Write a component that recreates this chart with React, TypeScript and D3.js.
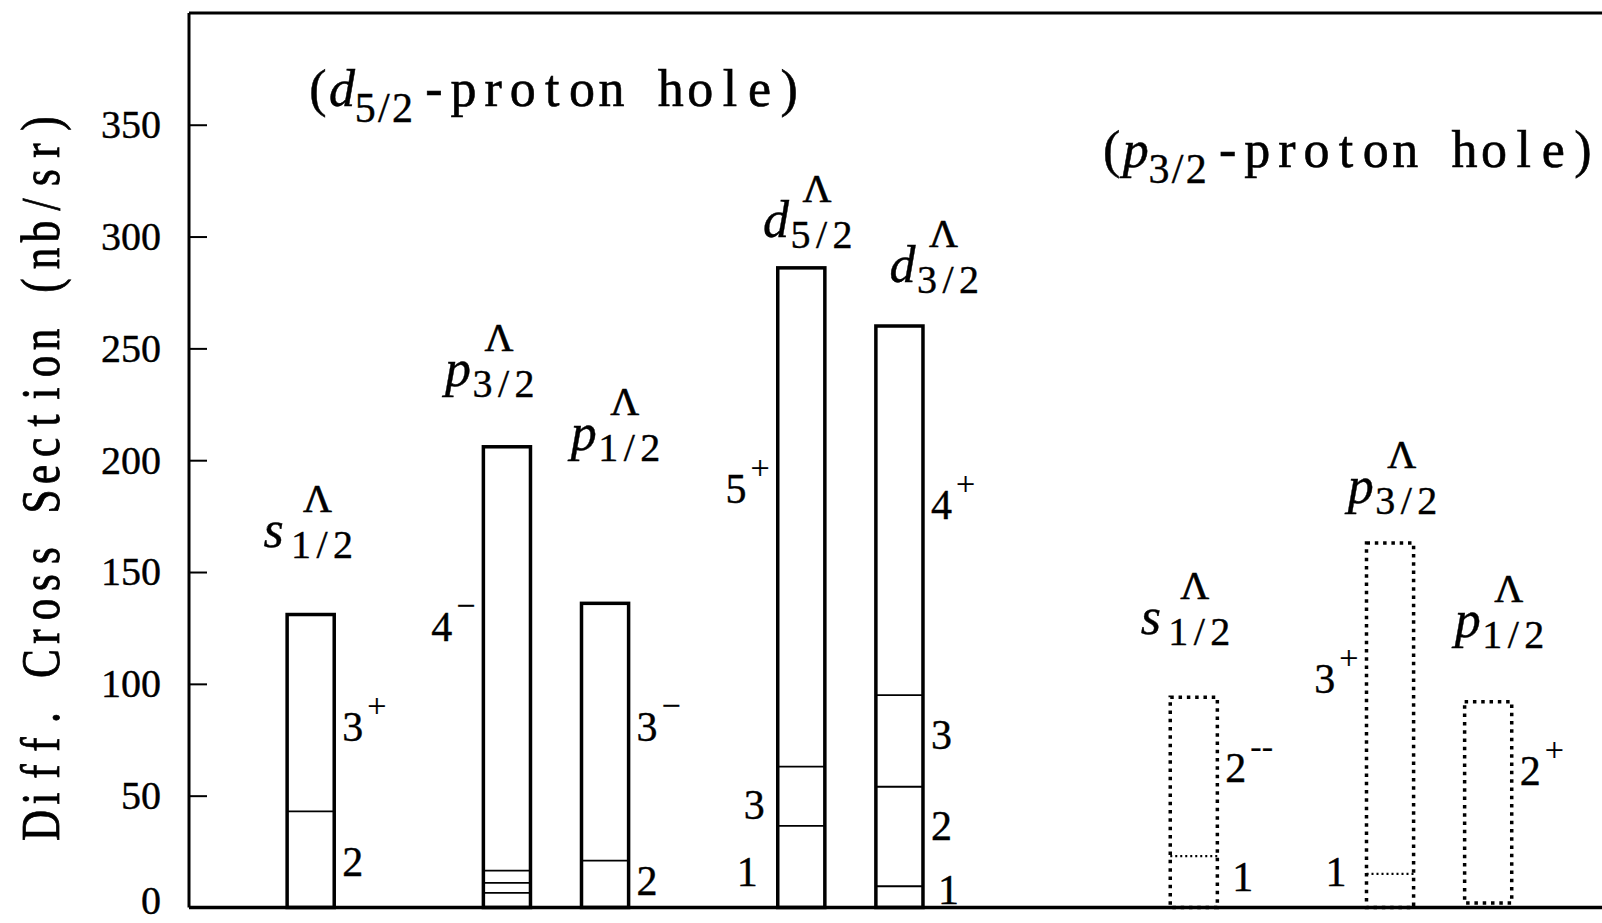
import React, { useEffect, useRef } from "react";
import * as d3 from "d3";

const WIDTH = 1602;
const HEIGHT = 923;
const FONT = "Liberation Serif, DejaVu Serif, serif";

// ---------- axis ----------
const yTickValues = [0, 50, 100, 150, 200, 250, 300, 350];
const yDomain: [number, number] = [0, 400];
const xDomain: [number, number] = [-1.24, 13.16];
const yAxisTitle = "Diff. Cross Section (nb/sr)";

// ---------- Λ orbitals (bars) ----------
const barLetters = ["s", "p", "p", "d", "d", "s", "p", "p"];
const barSubs = ["1/2", "3/2", "1/2", "5/2", "3/2", "1/2", "3/2", "1/2"];
const barX = [0, 2, 3, 5, 6, 9, 11, 12];
const barHole = ["d", "d", "d", "d", "d", "p", "p", "p"]; // d5/2-hole solid, p3/2-hole dotted
const barBase = [0, 0, 0, 0, 0, 0, 0, 2];
const barSegments = [
  [43, 88],
  [6.5, 4.5, 5.5, 189.5],
  [21, 115],
  [36.5, 26.5, 223],
  [9.5, 44.5, 41, 165],
  [23, 71],
  [15, 148],
  [90],
];
// orbital label anchors (x in level units, y = letter baseline value)
const orbLabelX = [-0.48, 1.37, 2.65, 4.61, 5.9, 8.46, 10.57, 11.66];
const orbLabelY = [161.2, 233.4, 204.6, 299.8, 279.9, 122.5, 180.8, 121.0];

// ---------- J^pi labels ----------
const jpBar = [0, 0, 1, 2, 2, 3, 3, 3, 4, 4, 4, 4, 5, 5, 6, 6, 7];
const jpJ = ["3", "2", "4", "3", "2", "5", "3", "1", "4", "3", "2", "1", "2", "1", "3", "1", "2"];
const jpParity = ["+", "", "\u2212", "\u2212", "", "+", "", "", "+", "", "", "", "--", "", "+", "", "+"];
const jpSide = ["R", "R", "L", "R", "R", "L", "L", "L", "R", "R", "R", "R", "R", "R", "L", "L", "R"];
const jpValue = [80.5, 20.5, 125.3, 80.6, 11.9, 187, 46, 16, 180, 77, 36.6, 7.8, 62.5, 13.8, 102, 15.8, 61];

// ---------- proton-hole annotations ----------
const holeLetters = ["d", "p"];
const holeSubs = ["5/2", "3/2"];
const holeText = "-proton hole)";
const holeX = [0.074, 8.163];
const holeY = [358.5, 330.9];

const TXT: any = { fontFamily: FONT, fill: "#000" };

function MonoChars({ text, x0, adv, y, fontSize, scaleX = 1, weight = 0.4 }: any) {
  return (
    <g>
      {text.split("").map((ch: string, i: number) =>
        ch === " " ? null : (
          <text
            key={i}
            transform={`translate(${x0 + i * adv},${y}) scale(${scaleX},1)`}
            textAnchor="middle"
            fontSize={fontSize}
            style={TXT}
            stroke="#000"
            strokeWidth={weight}
          >
            {ch}
          </text>
        )
      )}
    </g>
  );
}

export default function App() {
  const axisRef = useRef<SVGGElement>(null);
  const x = d3.scaleLinear().domain(xDomain).range([189, 1602]);
  const y = d3.scaleLinear().domain(yDomain).range([907.5, 12.9]);
  const halfW = 0.24;

  useEffect(() => {
    if (!axisRef.current) return;
    const g = d3.select(axisRef.current);
    g.selectAll("*").remove();
    const axis = d3
      .axisLeft(y)
      .tickValues(yTickValues)
      .tickSize(-18)
      .tickPadding(28)
      .tickFormat(d3.format("d"));
    g.call(axis as any);
    g.attr("font-family", null).attr("font-size", null);
    g.select(".domain").remove();
    g.selectAll(".tick line").attr("stroke", "#000").attr("stroke-width", 2);
    g.selectAll(".tick text")
      .style("font-family", FONT)
      .style("font-size", "40px")
      .attr("fill", "#000")
      .attr("stroke", "#000")
      .attr("stroke-width", 0.4)
      .attr("dy", (d: any) => (d === 0 ? "0.15em" : "0.32em"));
  }, []);

  const x0 = x(xDomain[0]);
  const x1 = x(xDomain[1]);
  const yTop = y(yDomain[1]);
  const yBot = y(0);

  return (
    <svg
      width={WIDTH}
      height={HEIGHT}
      style={{ position: "absolute", left: 0, top: 0, display: "block", background: "#fff" }}
    >
      <rect x={0} y={0} width={WIDTH} height={HEIGHT} fill="#fff" />
      {/* frame */}
      <line x1={x0} x2={x1} y1={yTop} y2={yTop} stroke="#000" strokeWidth={3} />
      <line x1={x0} x2={x0} y1={yTop} y2={yBot} stroke="#000" strokeWidth={3} />
      <line x1={x0} x2={x1} y1={yBot} y2={yBot} stroke="#000" strokeWidth={3.5} />
      <g ref={axisRef} transform={`translate(${x0},0)`} />

      {/* y axis title */}
      <g transform="translate(59,0) rotate(-90)">
        <MonoChars text={yAxisTitle} x0={-825.5} adv={27} y={0} fontSize={54} scaleX={0.8} weight={0.8} />
      </g>

      {/* bars */}
      {barX.map((cx, i) => {
        const cum: number[] = Array.from(d3.cumsum(barSegments[i]));
        const total = cum[cum.length - 1];
        const base = barBase[i];
        const dotted = barHole[i] === "p";
        const left = x(cx - halfW);
        const right = x(cx + halfW);
        return (
          <g key={i}>
            <rect
              x={left}
              y={y(base + total)}
              width={right - left}
              height={y(base) - y(base + total)}
              fill="none"
              stroke="#000"
              strokeWidth={3.5}
              strokeDasharray={dotted ? "3.5 4.8" : undefined}
            />
            {cum.slice(0, -1).map((v, k) => (
              <line
                key={k}
                x1={left}
                x2={right}
                y1={y(base + v)}
                y2={y(base + v)}
                stroke="#000"
                strokeWidth={dotted ? 2.2 : 1.8}
                strokeDasharray={dotted ? "2 3" : undefined}
              />
            ))}
          </g>
        );
      })}

      {/* J^pi labels */}
      {jpBar.map((b, i) => {
        const cx = barX[b];
        const isRight = jpSide[i] === "R";
        const extra = (jpJ[i] === "1" ? 7 : 0) + (!isRight && !jpParity[i] ? 5 : 0);
        const tx = isRight ? x(cx + halfW) + 8 + extra : x(cx - halfW) - 8 - extra;
        const ty = y(jpValue[i]) + 14;
        return (
          <text
            key={i}
            x={tx}
            y={ty}
            textAnchor={isRight ? "start" : "end"}
            fontSize={42}
            style={TXT}
            stroke="#000"
            strokeWidth={0.4}
          >
            <tspan>{jpJ[i]}</tspan>
            {jpParity[i] ? (
              <tspan dx={4} dy={-24} fontSize={34} strokeWidth={0.2}>
                {jpParity[i]}
              </tspan>
            ) : null}
          </text>
        );
      })}

      {/* orbital labels */}
      {barX.map((_, i) => {
        const lx = x(orbLabelX[i]);
        const ly = y(orbLabelY[i]);
        return (
          <g key={i}>
            <text x={lx} y={ly} fontSize={52} fontStyle="italic" style={TXT} stroke="#000" strokeWidth={0.4}>
              {barLetters[i]}
            </text>
            <MonoChars text={barSubs[i]} x0={lx + 27 + 10.5} adv={21} y={ly + 11} fontSize={40} />
            <text
              x={lx + 54}
              y={ly - 35}
              textAnchor="middle"
              fontSize={40}
              style={TXT}
              stroke="#000"
              strokeWidth={0.6}
            >
              {"\u039B"}
            </text>
          </g>
        );
      })}

      {/* proton-hole annotations */}
      {holeX.map((hx, i) => {
        const ax = x(hx);
        const ay = y(holeY[i]);
        return (
          <g key={i}>
            <text x={ax} y={ay} textAnchor="middle" fontSize={52} style={TXT} stroke="#000" strokeWidth={0.5}>
              (
            </text>
            <text
              x={ax + 11}
              y={ay}
              fontSize={52}
              fontStyle="italic"
              style={TXT}
              stroke="#000"
              strokeWidth={0.5}
            >
              {holeLetters[i]}
            </text>
            <MonoChars text={holeSubs[i]} x0={ax + 38 + 9.3} adv={18.6} y={ay + 16} fontSize={42} />
            <MonoChars text={holeText} x0={ax + 116} adv={29.6} y={ay} fontSize={52} weight={0.6} />
          </g>
        );
      })}
    </svg>
  );
}
